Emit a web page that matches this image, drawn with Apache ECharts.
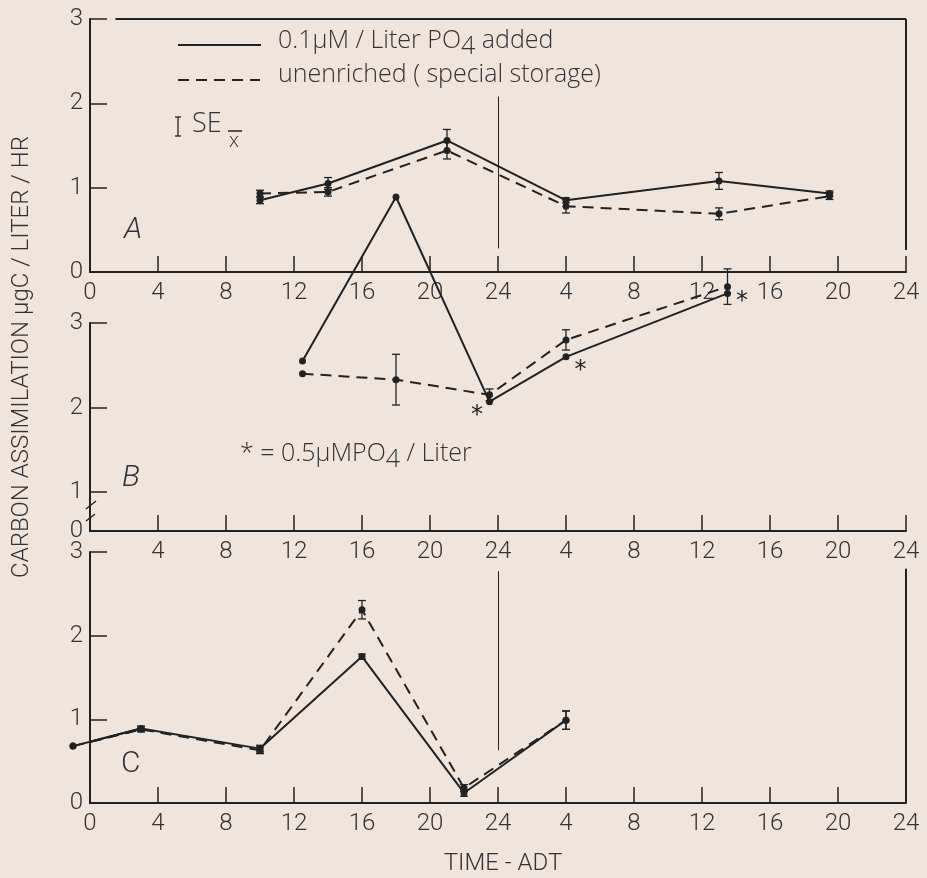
<!DOCTYPE html>
<html lang="en">
<head>
<meta charset="UTF-8">
<title>Carbon assimilation</title>
<script src="https://cdn.jsdelivr.net/npm/echarts@6.0.0/dist/echarts.min.js"></script>
<style>
  html, body { margin: 0; padding: 0; background: #f0e5dd; }
  #chart { width: 927px; height: 878px; }
</style>
</head>
<body>
<div id="chart"></div>
<script>
// hours on a 0..48 scale (second day shown as 4..24 again)
const hourLabels = ['0', '4', '8', '12', '16', '20', '24', '4', '8', '12', '16', '20', '24'];

// panel A
const timeA = [10, 14, 21, 28, 37, 43.5];
const solidA = [0.85, 1.05, 1.56, 0.85, 1.08, 0.93];
const dashedA = [0.93, 0.95, 1.44, 0.78, 0.69, 0.90];
const seSolidA = [0.04, 0.07, 0.13, 0.03, 0.10, 0.03];
const seDashedA = [0.04, 0.05, 0.10, 0.08, 0.07, 0.04];

// panel B
const timeB = [12.5, 18, 23.5, 28, 37.5];
const solidB = [2.55, 4.49, 2.07, 2.60, 3.35];
const dashedB = [2.40, 2.33, 2.15, 2.80, 3.43];
const seSolidB = [0, 0, 0, 0, 0];
const seDashedB = [0, 0.30, 0.07, 0.12, 0.21];
const starB = [false, false, true, true, true];

// panel C
const timeC = [-1, 3, 10, 16, 22, 28];
const solidC = [0.68, 0.89, 0.65, 1.75, 0.12, 0.99];
const dashedC = [0.68, 0.88, 0.63, 2.31, 0.18, 0.99];
const seSolidC = [0, 0.03, 0.04, 0.03, 0.04, 0.11];
const seDashedC = [0, 0.03, 0.04, 0.11, 0.04, 0.11];

const INK = '#222';
const TXT = '#333';
const FONT = "Roboto, 'DejaVu Sans', sans-serif";
const WIDE = "'Open Sans', Roboto, sans-serif";
const BG = '#f0e5dd';

var chart = echarts.init(document.getElementById('chart'));

function pairs(xs, ys) {
  return xs.map((x, i) => [x, ys[i]]);
}
function bars(xs, ys, se) {
  return xs.map((x, i) => [x, ys[i] - se[i], ys[i] + se[i]]).filter((d, i) => se[i] > 0);
}

function xAxis(grid, showZero) {
  return {
    type: 'value', gridIndex: grid, min: 0, max: 48, interval: 4,
    axisLine: { lineStyle: { color: INK, width: 2 } },
    axisTick: { inside: true, length: 16, lineStyle: { color: INK, width: 1.5 } },
    splitLine: { show: false },
    axisLabel: {
      margin: 9, color: TXT, fontFamily: FONT, fontWeight: 300, fontSize: 24,
      showMinLabel: true, showMaxLabel: true,
      formatter: v => (v === 0 && !showZero) ? '' : hourLabels[Math.round(v / 4)]
    }
  };
}
function yAxis(grid, min, labels, ticks) {
  return {
    type: 'value', gridIndex: grid, min: min, max: 3,
    axisLine: { show: true, lineStyle: { color: INK, width: 2 } },
    axisTick: { inside: true, length: 17, customValues: ticks, lineStyle: { color: INK, width: 1.5 } },
    splitLine: { show: false },
    axisLabel: {
      margin: 7, color: TXT, fontFamily: FONT, fontWeight: 300, fontSize: 24,
      customValues: labels,
      formatter: v => v < 1 ? '0' : String(v)
    }
  };
}

function lineSeries(grid, data, dashed, extra) {
  return Object.assign({
    type: 'line', xAxisIndex: grid, yAxisIndex: grid, data: data,
    clip: false, animation: false, silent: true,
    symbol: 'circle', symbolSize: 7, showAllSymbol: true,
    itemStyle: { color: INK },
    lineStyle: { color: INK, width: 2, type: dashed ? [11, 7] : 'solid' }
  }, extra || {});
}

// line pieces that lie left of the time axis start (line series clip along x)
function segmentSeries(grid, segs, dashed) {
  return {
    type: 'custom', xAxisIndex: grid, yAxisIndex: grid, data: segs,
    animation: false, silent: true, clip: false,
    renderItem: function (params, api) {
      const a = api.coord([api.value(0), api.value(1)]);
      const b = api.coord([api.value(2), api.value(3)]);
      return {
        type: 'line', shape: { x1: a[0], y1: a[1], x2: b[0], y2: b[1] },
        style: { stroke: INK, lineWidth: 2, lineDash: dashed ? [11, 7] : null }
      };
    }
  };
}

function errorSeries(grid, data) {
  return {
    type: 'custom', xAxisIndex: grid, yAxisIndex: grid, data: data,
    animation: false, silent: true, clip: false,
    renderItem: function (params, api) {
      const x = api.value(0);
      const lo = api.coord([x, api.value(1)]);
      const hi = api.coord([x, api.value(2)]);
      const w = 4;
      const style = { stroke: INK, lineWidth: 1.3 };
      return {
        type: 'group',
        children: [
          { type: 'line', shape: { x1: lo[0], y1: lo[1], x2: hi[0], y2: hi[1] }, style: style },
          { type: 'line', shape: { x1: lo[0] - w, y1: lo[1], x2: lo[0] + w, y2: lo[1] }, style: style },
          { type: 'line', shape: { x1: hi[0] - w, y1: hi[1], x2: hi[0] + w, y2: hi[1] }, style: style }
        ]
      };
    }
  };
}

// frame pieces and the midnight divider, in data units of each panel
function frame(segments) {
  return {
    silent: true, symbol: ['none', 'none'], animation: false,
    label: { show: false },
    lineStyle: { color: INK, type: 'solid' },
    data: segments.map(s => [
      { coord: [s[0], s[1]], lineStyle: { width: s[4], color: INK, type: 'solid' } },
      { coord: [s[2], s[3]] }
    ])
  };
}

const starPlace = [null, null,
  { position: 'left', offset: [2, 14] },
  { position: 'right', offset: [0, 14] },
  { position: 'right', offset: [0, 8] }];

const solidBData = timeB.map((t, i) => {
  const item = { value: [t, solidB[i]] };
  if (starB[i]) {
    item.label = Object.assign({
      show: true, formatter: '*', color: INK, fontFamily: 'DejaVu Sans', fontSize: 24
    }, starPlace[i]);
  }
  return item;
});

const option = {
  backgroundColor: BG,
  animation: false,
  grid: [
    { left: 90, right: 21, top: 19, height: 253 },
    { left: 90, right: 21, top: 323, height: 208 },
    { left: 90, right: 21, top: 552, height: 251 }
  ],
  xAxis: [xAxis(0, true), xAxis(1, false), xAxis(2, true)],
  yAxis: [
    yAxis(0, 0, [0, 1, 2, 3], [1, 2, 3]),
    yAxis(1, 0.54, [0.54, 1, 2, 3], [1, 2, 3]),
    yAxis(2, 0, [0, 1, 2, 3], [1, 2, 3])
  ],
  series: [
    lineSeries(0, pairs(timeA, solidA), false, {
      markLine: frame([[1.5, 3, 48, 3, 2], [48, 0.26, 48, 3, 2], [24, 0.28, 24, 2.08, 1]])
    }),
    lineSeries(0, pairs(timeA, dashedA), true),
    errorSeries(0, bars(timeA, solidA, seSolidA)),
    errorSeries(0, bars(timeA, dashedA, seDashedA)),

    lineSeries(1, solidBData, false, {
      markLine: frame([[48, 0.82, 48, 3.15, 2], [24, 0.82, 24, 3.18, 1]])
    }),
    lineSeries(1, pairs(timeB, dashedB), true),
    errorSeries(1, bars(timeB, dashedB, seDashedB)),

    lineSeries(2, pairs(timeC, solidC), false, {
      markLine: frame([[48, 0, 48, 2.8, 2], [24, 0.63, 24, 2.77, 1]])
    }),
    lineSeries(2, pairs(timeC, dashedC), true),
    segmentSeries(2, [[timeC[0], solidC[0], timeC[1], solidC[1]]], false),
    segmentSeries(2, [[timeC[0], dashedC[0], timeC[1], dashedC[1]]], true),
    errorSeries(2, bars(timeC, solidC, seSolidC)),
    errorSeries(2, bars(timeC, dashedC, seDashedC))
  ],
  graphic: [
    // legend
    { type: 'line', shape: { x1: 178, y1: 45, x2: 261, y2: 45 }, style: { stroke: INK, lineWidth: 2 } },
    { type: 'line', shape: { x1: 178, y1: 80, x2: 260, y2: 80 }, style: { stroke: INK, lineWidth: 2, lineDash: [11, 7] } },
    {
      type: 'text', left: 278, top: 28,
      style: {
        text: '{t|0.1\u00b5M / Liter PO}{s|4}{t| added}',
        rich: {
          t: { fontFamily: WIDE, fontWeight: 300, fontSize: 25, fill: TXT },
          s: { fontFamily: WIDE, fontWeight: 300, fontSize: 25, fill: TXT, padding: [12, 0, 0, 0] }
        }
      }
    },
    {
      type: 'text', left: 278, top: 62,
      style: { text: 'unenriched ( special storage)', fontFamily: WIDE, fontWeight: 300, fontSize: 25, fill: TXT }
    },
    // SE key
    { type: 'line', shape: { x1: 178, y1: 117, x2: 178, y2: 136 }, style: { stroke: INK, lineWidth: 1.3 } },
    { type: 'line', shape: { x1: 175, y1: 117, x2: 181, y2: 117 }, style: { stroke: INK, lineWidth: 1.3 } },
    { type: 'line', shape: { x1: 175, y1: 136, x2: 181, y2: 136 }, style: { stroke: INK, lineWidth: 1.3 } },
    { type: 'text', left: 192, top: 111, style: { text: 'SE', fontFamily: WIDE, fontWeight: 300, fontSize: 27, fill: TXT } },
    { type: 'text', left: 229, top: 131, style: { text: 'x', fontFamily: WIDE, fontWeight: 300, fontSize: 20, fill: TXT } },
    { type: 'line', shape: { x1: 228, y1: 131, x2: 242, y2: 131 }, style: { stroke: INK, lineWidth: 1.5 } },
    // panel letters
    { type: 'text', left: 124, top: 215, style: { text: 'A', fontFamily: FONT, fontStyle: 'italic', fontWeight: 300, fontSize: 30, fill: TXT } },
    { type: 'text', left: 122, top: 463, style: { text: 'B', fontFamily: FONT, fontStyle: 'italic', fontWeight: 300, fontSize: 30, fill: TXT } },
    { type: 'text', left: 121, top: 749, style: { text: 'C', fontFamily: FONT, fontWeight: 300, fontSize: 30, fill: TXT } },
    // asterisk note
    {
      type: 'text', left: 240, top: 441,
      style: {
        text: '{t|* = 0.5\u00b5MPO}{s|4}{t| / Liter}',
        rich: {
          t: { fontFamily: WIDE, fontWeight: 300, fontSize: 25, fill: TXT },
          s: { fontFamily: WIDE, fontWeight: 300, fontSize: 25, fill: TXT, padding: [12, 0, 0, 0] }
        }
      }
    },
    // axis break on panel B
    { type: 'rect', shape: { x: 85, y: 506, width: 10, height: 10 }, style: { fill: BG } },
    { type: 'line', shape: { x1: 86, y1: 509, x2: 96, y2: 501 }, style: { stroke: INK, lineWidth: 1.5 } },
    { type: 'line', shape: { x1: 86, y1: 521, x2: 95, y2: 514 }, style: { stroke: INK, lineWidth: 1.5 } },
    // axis titles
    {
      type: 'text', x: 22, y: 357, rotation: Math.PI / 2,
      style: {
        text: 'CARBON ASSIMILATION \u00b5gC / LITER / HR', align: 'center', verticalAlign: 'middle',
        fontFamily: FONT, fontWeight: 300, fontSize: 24, fill: TXT
      }
    },
    {
      type: 'text', x: 503, y: 864,
      style: {
        text: 'TIME - ADT', align: 'center', verticalAlign: 'middle',
        fontFamily: FONT, fontWeight: 300, fontSize: 24, fill: TXT
      }
    }
  ]
};

chart.setOption(option);
</script>
</body>
</html>
